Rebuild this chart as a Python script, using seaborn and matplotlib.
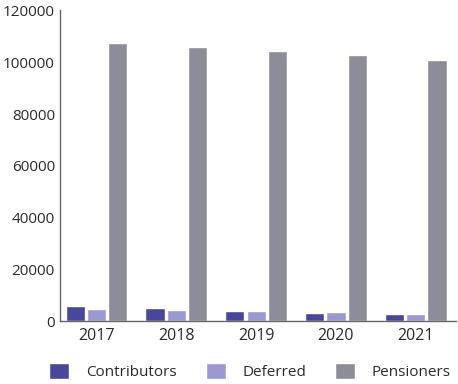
import matplotlib
matplotlib.use("Agg")
import matplotlib.pyplot as plt
import seaborn as sns
import pandas as pd
import numpy as np

years = ["2017", "2018", "2019", "2020", "2021"]
contributors = [5900, 5000, 4000, 3200, 2700]
deferred = [4900, 4500, 4000, 3600, 3000]
pensioners = [107500, 106000, 104500, 102800, 101000]
series = ["Contributors", "Deferred", "Pensioners"]
colors = ["#48479a", "#9a99d2", "#8d8d99"]
yticks = [0, 20000, 40000, 60000, 80000, 100000, 120000]

df = pd.DataFrame({
    "Year": years * 3,
    "Series": [series[0]] * 5 + [series[1]] * 5 + [series[2]] * 5,
    "Value": contributors + deferred + pensioners,
})

sns.set_style("white")
plt.rcParams["font.family"] = ["Open Sans", "DejaVu Sans"]

fig = plt.figure(figsize=(4.58, 3.84), dpi=100)
ax = fig.add_axes([0.132, 0.163, 0.863, 0.81])

sns.barplot(data=df, x="Year", y="Value", hue="Series", palette=colors,
            saturation=1, width=0.8, gap=0.1, ax=ax, legend=True)

ax.set_ylim(0, 120000)
ax.set_yticks(yticks)
ax.set_yticklabels([str(v) for v in yticks])
ax.set_xlim(-0.45, 4.5)
ax.set_xlabel("")
ax.set_ylabel("")

for side in ["top", "right"]:
    ax.spines[side].set_visible(False)
for side in ["left", "bottom"]:
    ax.spines[side].set_color("#666666")
    ax.spines[side].set_linewidth(1.0)

ax.tick_params(axis="y", direction="in", length=7, width=1, color="#666666",
               labelsize=11, labelcolor="#2a2a2a", pad=4)
ax.tick_params(axis="x", length=0, labelsize=11.5, labelcolor="#2a2a2a", pad=5)
ax.set_xticks([0.5, 1.5, 2.5, 3.5], minor=True)
ax.tick_params(axis="x", which="minor", direction="in", length=3, width=1,
               color="#666666")

handles, labels = ax.get_legend_handles_labels()
ax.legend(handles, labels, loc="upper center", bbox_to_anchor=(0.48, -0.088),
          ncol=3, frameon=False, fontsize=11, handlelength=1.3, handleheight=1.3,
          columnspacing=1.9, handletextpad=1.1, labelcolor="#2a2a2a")

fig.savefig("out.png", dpi=100)
